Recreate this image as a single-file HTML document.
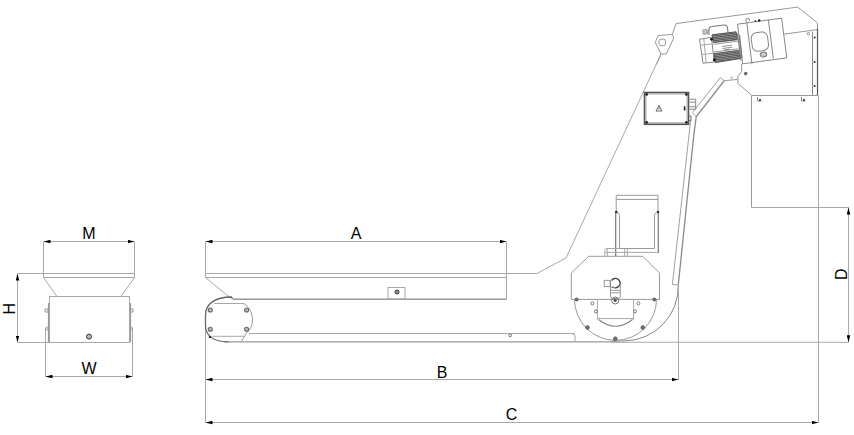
<!DOCTYPE html>
<html><head><meta charset="utf-8">
<style>
html,body{margin:0;padding:0;background:#fff;width:854px;height:435px;overflow:hidden}
svg{display:block}
text{font-family:"Liberation Sans",sans-serif;font-size:16px;fill:#000}
</style></head><body>
<svg width="854" height="435" viewBox="0 0 854 435">
<defs>
<marker id="ar" viewBox="0 0 7 4" refX="7" refY="2" markerWidth="7" markerHeight="4" markerUnits="userSpaceOnUse" orient="auto-start-reverse">
<path d="M7,2 L0,0.25 L0,3.75 Z" fill="#000"/>
</marker>
<pattern id="hatch" patternUnits="userSpaceOnUse" width="1.6" height="1.6" patternTransform="rotate(-7.6)">
<rect width="1.6" height="1.6" fill="#9a9a9a"/>
<rect width="1.6" height="0.9" fill="#555"/>
</pattern>
</defs>
<g fill="none" stroke="#a8a8a8" stroke-width="1">
<!-- ===== left hopper view ===== -->
<!-- M dim -->
<line x1="43.5" y1="241.5" x2="134.5" y2="241.5" marker-start="url(#ar)" marker-end="url(#ar)"/>
<line x1="43.5" y1="241.5" x2="43.5" y2="273.5"/>
<line x1="134.5" y1="241.5" x2="134.5" y2="273.5"/>
<!-- hopper -->
<rect x="43.5" y="273.5" width="91" height="4"/>
<path d="M43.5,277.5 L57,296.5 M134.5,277.5 L121,296.5"/>
<rect x="49.5" y="296.5" width="80" height="46"/>
<!-- H dim -->
<line x1="17.5" y1="273.5" x2="17.5" y2="342.5" marker-start="url(#ar)" marker-end="url(#ar)"/>
<line x1="17.5" y1="273.5" x2="43.5" y2="273.5"/>
<line x1="17.5" y1="342.5" x2="49.5" y2="342.5"/>
<!-- W dim -->
<line x1="45.5" y1="376.5" x2="132.5" y2="376.5" marker-start="url(#ar)" marker-end="url(#ar)"/>
<line x1="45.5" y1="328" x2="45.5" y2="376.5"/>
<line x1="132.5" y1="328" x2="132.5" y2="376.5"/>
<path d="M48.5,303 L48.5,342 M130.5,303 L130.5,342" stroke="#999" stroke-width="1.2"/>
<path d="M45.5,328 Q45.5,327 47,327 L48,327 M132.5,328 Q132.5,327 131,327 L130,327"/>
<path d="M45,309 h3 v3 h-3 z M130,309 h3 v3 h-3 z M45.5,329 h2.5 v2 M132.5,329 h-2.5 v2" stroke="#999"/>
<circle cx="89" cy="336.6" r="2.5" fill="#bbb" stroke="#333" stroke-width="1"/>

<!-- ===== main conveyor ===== -->
<line x1="205.5" y1="241.5" x2="506.5" y2="241.5" marker-start="url(#ar)" marker-end="url(#ar)"/>
<path d="M205.5,241.5 L205.5,277.5 M205.5,324 L205.5,422.5"/>
<line x1="506.5" y1="241.5" x2="506.5" y2="299"/>
<path d="M205.5,273.5 L537,273.5 L566,258 L661,54"/>
<line x1="205.5" y1="277.5" x2="506.5" y2="277.5"/>
<path d="M205.5,277.5 L230,297.5"/>
<line x1="233" y1="299.3" x2="506.5" y2="299.3" stroke="#999" stroke-width="1.5"/>
<rect x="388" y="287.5" width="17" height="11.5"/>
<circle cx="397" cy="292" r="2" fill="#999" stroke="#333"/>
<line x1="249" y1="333.5" x2="575" y2="333.5"/>
<line x1="224" y1="341.9" x2="612" y2="341.9" stroke="#999" stroke-width="1.4"/>
<line x1="612" y1="342.3" x2="849" y2="342.3" stroke="#aaa" stroke-width="1"/>
<circle cx="510.2" cy="335.4" r="1.3" stroke="#666"/>
<!-- head end -->
<path d="M232.5,299 L231.5,297 C215,297 205.5,304 205.5,315 L205.5,325 C205.5,336 214,341.8 228.5,341.8" stroke="#666" stroke-width="1.3"/>
<path d="M214,303.5 L244,303.5 M212.5,336.3 L245,336.3"/>
<path d="M244,303.5 C249,307 252.5,313 252.5,320 C252.5,326 250,330 247,332.5 L241.5,341" stroke="#999"/>
<g stroke="#666" stroke-width="1.1" fill="#bbb">
<circle cx="210.3" cy="310" r="2"/><circle cx="246.6" cy="310" r="2"/>
<circle cx="210.3" cy="329.3" r="2"/><circle cx="246.6" cy="329.3" r="2"/>
</g>
<circle cx="210" cy="337" r="1.3" fill="#333" stroke="none"/>
<!-- housing -->
<path d="M588.7,256.3 L642.8,256.3 L659.5,273 L659.5,299.4 L571.3,299.4 L571.3,273 Z" stroke="#999"/>
<path d="M574.5,299.4 A41,41 0 0 0 656.5,299.4" stroke="#999"/>
<path d="M597.4,299.4 L597.4,319.5 M633.6,299.4 L633.6,319.5 M597.4,318.6 L633.6,318.6"/>
<path d="M598.5,319.5 Q615.5,333 632.5,319.5" stroke="#888" stroke-width="1.2"/>
<g fill="#777" stroke="#444" stroke-width="0.8">
<circle cx="576.7" cy="299.5" r="1.5"/><circle cx="654.3" cy="299.5" r="1.5"/>
<circle cx="587.5" cy="327.5" r="1.8"/><circle cx="642.8" cy="327.5" r="1.8"/>
<circle cx="615.3" cy="338.7" r="1.8"/>
</g>
<g stroke="#777" stroke-width="1">
<circle cx="592.4" cy="303.4" r="1.5"/><circle cx="638.4" cy="303.4" r="1.5"/>
<circle cx="595.9" cy="311.4" r="1.5"/><circle cx="635" cy="311.4" r="1.5"/>
</g>
<path d="M575,341.5 L575,336 Q575,333.5 572,333.5"/>
<!-- coupling -->
<rect x="604.3" y="280.4" width="5.8" height="6.2" stroke="#999"/>
<path d="M611.5,280.5 A4.7,4.7 0 1 1 612.5,286.8" stroke="#444" stroke-width="1.4"/><path d="M610.5,280.4 L610.5,287.5 L616,287.7" stroke="#888"/>
<path d="M610.5,287.7 L610.5,296 Q610.5,298.5 613,298.5 L618,298.5 Q620.3,298.5 620.3,296 L620.3,284 M611,290.3 L620,290.3 M611,292.8 L620,292.8" stroke="#999"/>
<circle cx="615.2" cy="300.5" r="3.5" stroke="#777"/>
<circle cx="615.2" cy="300.3" r="1.6" fill="#555" stroke="none"/>
<!-- motor -->
<path d="M616.2,212 L616.2,195.3 L658,195.3 L658,212 M616.2,199.4 L658,199.4" stroke="#999"/>
<path d="M615.7,212 L615.7,256.2 M658.3,212 L658.3,253" stroke="#777" stroke-width="1.2"/>
<path d="M616.5,212.5 Q619.5,212.5 619.5,215.5 L619.5,248.5 L654.5,248.5 L654.5,215.5 Q654.5,212.5 657.5,212.5" stroke="#999"/>
<path d="M604.8,256 L604.8,250.5 Q604.8,248.5 607,248.5 L619.8,248.5 M604.8,252.4 L658.3,252.4 M607.3,249 L607.3,256 M624.7,249 L624.7,256 M627.3,249 L627.3,256"/>
<circle cx="616.3" cy="212" r="1.3" fill="#333" stroke="none"/><circle cx="658.1" cy="212" r="1.3" fill="#333" stroke="none"/>
<!-- riser -->
<path d="M720.4,77.6 L692.6,112.4 L696.2,116.8 L724.2,80.7 Z M678.3,284.8 L672.4,284.5 L689,135 L690.6,121" stroke="#a0a0a0"/><path d="M696.2,116.8 L693.8,135 L678.3,284.8" stroke="#8a8a8a" stroke-width="1.3"/><path d="M724.2,80.7 L696.2,116.8" stroke="#999" stroke-width="1.5"/>
<path d="M678.3,285 A54.4,54.4 0 0 1 624,340.9 L612,341.4" stroke="#888"/>
<line x1="678.5" y1="285" x2="678.5" y2="379.5"/>
<!-- electrical box -->
<rect x="644.5" y="92.5" width="44" height="31.8" stroke="#555" stroke-width="1.6"/>
<rect x="646" y="94" width="41" height="28.8" stroke="#999" stroke-width="0.8"/>
<g fill="#222" stroke="none">
<circle cx="646.6" cy="94.4" r="1.4"/><circle cx="686.4" cy="94.4" r="1.4"/>
<circle cx="646.6" cy="122.4" r="1.4"/><circle cx="686.4" cy="122.4" r="1.4"/>
<rect x="683.8" y="106.3" width="1.6" height="4.2"/>
</g>
<path d="M659,105.5 L656,111 L662,111 Z M659,107.5 L659,109.5" stroke="#555" stroke-width="0.9"/>
<path d="M689.5,99.2 L695.7,99.2 L695.7,109.2 L689.5,109.2 M689.5,102.2 L695.7,102.2 M689.5,106.7 L695.7,106.7" stroke="#888"/><path d="M688.7,116.1 L691,116.1 L691,120.6 L688.7,120.6" stroke="#666"/>
<!-- upper frame -->
<path d="M656.5,64.4 L661,54 L666.3,54 L673.7,38 L672.4,34.5 L658,35.5 L655.3,42.6 L661,54" stroke="#999"/>
<path d="M672.4,34.5 L676,23.6 L797.7,7.1 L817.5,23 L817.5,95.5" stroke="#999"/>
<rect x="659" y="39.2" width="6.5" height="6.5" rx="2" stroke="#999"/>
<path d="M812.5,31.6 L812.5,95.5" stroke="#888"/><path d="M783.7,34.2 L817.5,29.6" stroke="#999"/><path d="M817.5,29 L817.5,95.5" stroke="#555" stroke-width="1.2"/>
<g fill="#333" stroke="none">
<circle cx="814.7" cy="37.5" r="1"/><circle cx="814.7" cy="62" r="1"/><circle cx="814.7" cy="86" r="1"/>
</g>
<circle cx="808.4" cy="33.7" r="1.2" stroke="#888"/>
<path d="M751.5,207.5 L751.5,95.5 L818.5,95.5" stroke="#999"/>
<path d="M757.5,97 L757.5,101 L761.5,101 M801.5,97 L801.5,101 L805.5,101" stroke="#888"/>
<circle cx="760" cy="100" r="1" fill="#222" stroke="none"/><circle cx="804" cy="100" r="1" fill="#222" stroke="none"/>
<line x1="751.5" y1="207.5" x2="849" y2="207.5"/>
<line x1="818.5" y1="96" x2="818.5" y2="422.5"/>
<line x1="848.5" y1="207.5" x2="848.5" y2="342.3" marker-start="url(#ar)" marker-end="url(#ar)"/>
<!-- riser junction -->
<path d="M724.2,80.7 L737.9,79.4 M737.9,76.2 L737.9,83.4 L751.7,95.2 M737.9,76.2 L741.6,71.6 L741.6,64" stroke="#999"/>
<circle cx="745.7" cy="73.6" r="1.3" fill="#777" stroke="#555"/>
<circle cx="731.6" cy="77.8" r="0.8" stroke="#aaa"/>
<!-- B C dims -->
<line x1="205.5" y1="379.5" x2="678.5" y2="379.5" marker-start="url(#ar)" marker-end="url(#ar)"/>
<line x1="205.5" y1="422.5" x2="818.5" y2="422.5" marker-start="url(#ar)" marker-end="url(#ar)"/>
</g>
<!-- gearbox & motor (rotated) -->
<g fill="none" stroke="#888" stroke-width="1">
<path d="M737.5,24.2 L781.6,18.2 L786.8,57.9 L742.7,63.8 Z"/>
<path d="M746.6,21.5 L752,64.2 M768.3,19.5 L773.3,58.4"/>
<g transform="translate(759.9,41.6) rotate(-7.6)">
<rect x="-8.2" y="-9.3" width="16.4" height="18.6" rx="5.5"/>
<ellipse cx="1.8" cy="13.3" rx="3.2" ry="2.4" stroke="#666"/>
<path d="M-1.5,12.8 L5,12.8 M-1.5,14 L5,14" stroke="#999" stroke-width="0.7"/>
</g>

<path d="M746,21.5 L746,19 L749,18.6 L749.5,21" stroke="#888"/>
<circle cx="755.4" cy="21" r="0.9" fill="#444" stroke="none"/>
<circle cx="759.2" cy="20.4" r="1.2" fill="#111" stroke="none"/>
<!-- motor -->
<path d="M699.5,39.2 L711.5,37.4 L714.2,62 L703,63.2 Z" stroke="#888"/>
<path d="M703.8,38.7 L706.2,62.8" stroke="#aaa"/>
<path d="M700.3,45.3 L712.2,43.8 M701.3,54.6 L713.2,53.3" stroke="#aaa"/>
<path d="M712,34.8 L736.1,31.8 L737.4,39.7 L713.4,42.6 Z" fill="url(#hatch)" stroke="#555"/>
<path d="M714,53.6 L738.7,50.4 L740,58.6 L715.3,62.5 Z" fill="url(#hatch)" stroke="#555"/>
<path d="M713.6,44.3 L737.6,41.3 M713.9,52 L738.4,48.8" stroke="#999"/>
<path d="M722,46.5 L732,45.2 M722.5,48.5 L732.5,47.2 M724,50 L730,49.2" stroke="#777" stroke-width="0.8"/>
<path d="M709,35 L708.8,30.5 Q708.8,26.8 712,26.5 L724,25 Q727.3,24.6 727.5,28 L728.2,33.5" stroke="#777" stroke-width="1.1"/>
<path d="M702.6,29.9 L707.1,29.4 L707.6,33.8 L703.1,34.3 Z M703.8,31 L706.5,30.7 L706.8,33 L704.1,33.3 Z" stroke="#888" stroke-width="0.8"/>
<circle cx="711.5" cy="39.3" r="1.4" fill="#111" stroke="none"/>
<circle cx="714.3" cy="60" r="1.4" fill="#111" stroke="none"/>
<path d="M737.5,33.5 L741,60.5 M739.5,35 L742,58" stroke="#777" stroke-width="1.2"/>
</g>
<g>
<text x="89" y="239" text-anchor="middle">M</text>
<text x="89" y="374" text-anchor="middle">W</text>
<text x="356" y="239" text-anchor="middle">A</text>
<text x="442" y="378" text-anchor="middle">B</text>
<text x="511.6" y="420.2" text-anchor="middle">C</text>
<text transform="translate(15.2,308.6) rotate(-90)" text-anchor="middle">H</text>
<text transform="translate(847,274.3) rotate(-90)" text-anchor="middle">D</text>
</g>
</svg>
</body></html>
